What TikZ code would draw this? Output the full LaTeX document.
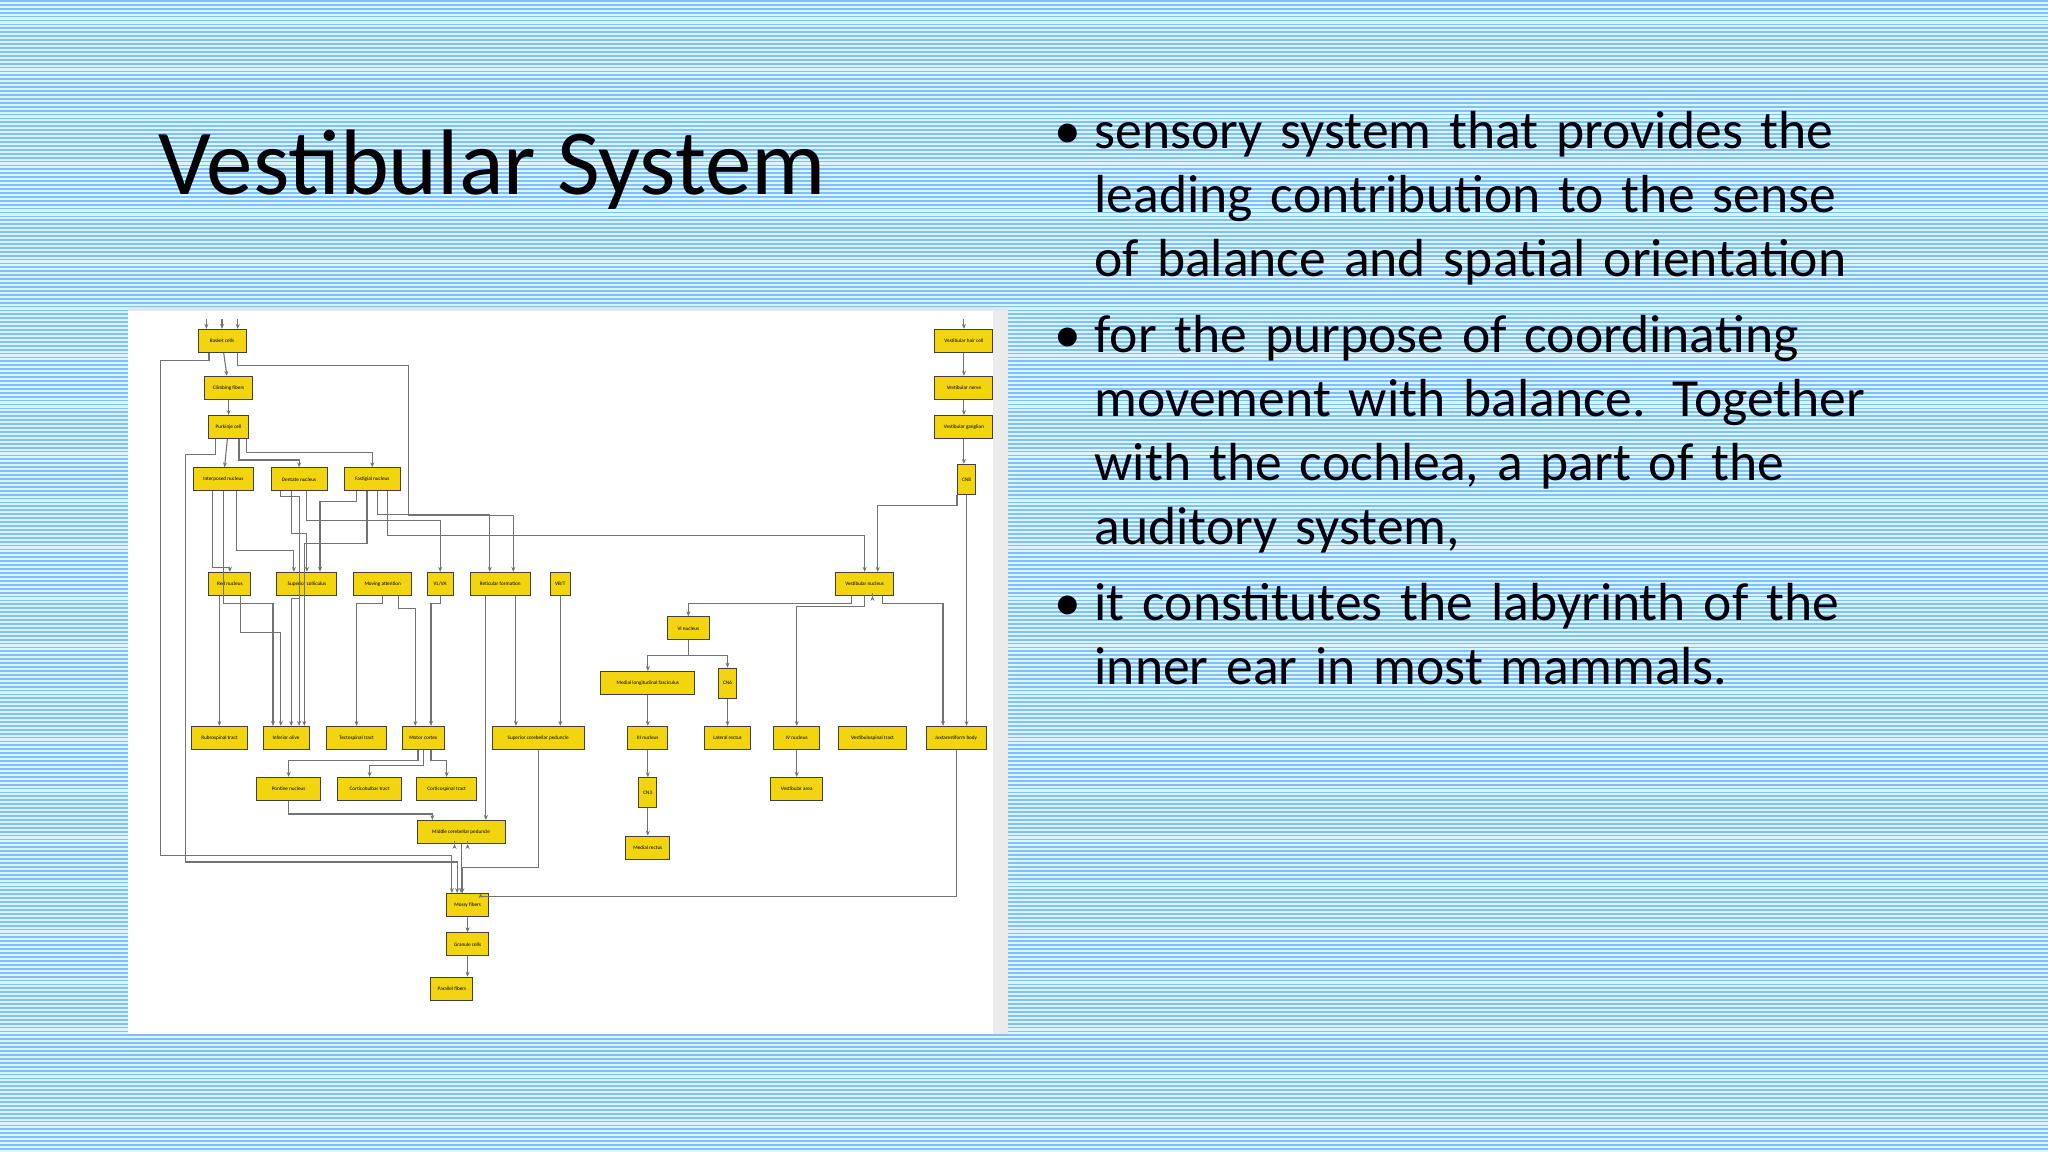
\documentclass[tikz,border=0pt]{standalone}
\usepackage{fontspec}
\setmainfont{Carlito}
\usetikzlibrary{arrows.meta,calc}
\begin{document}
\begin{tikzpicture}[x=0.653pt,y=-0.653pt,
  bx/.style={draw=black!75,fill=yellow!80!orange!95!black,line width=0.5pt,inner sep=0.5pt,minimum height=11.5pt,font=\fontsize{2.6}{3}\selectfont},
  cn/.style={bx,minimum height=15pt,minimum width=9pt},
  ed/.style={draw=black!55,line width=0.55pt,-{Stealth[length=2.5pt,width=2pt]}},
  ln/.style={draw=black!55,line width=0.55pt}]
\useasboundingbox (0,0) rectangle (1568,882);
\fill[blue!25!cyan!15!white] (0,0) rectangle (1568,882);
\foreach \i in {0,3,...,882} {\fill[blue!50!cyan!50!white] (0,\i) rectangle (1568,\i+1.4);}
% title and text
\node[anchor=west,font=\fontsize{46.5}{52}\selectfont] (title) at (116,130) {Vestibular System};
\node[anchor=north west,text width=720,align=left,font=\fontsize{26.8}{32}\selectfont] (txt) at (802,80) {%
\makebox[20pt][l]{•}sensory system that provides the\\\hspace*{20pt}leading contribution to the sense\\\hspace*{20pt}of balance and spatial orientation\\[6pt]
\makebox[20pt][l]{•}for the purpose of coordinating\\\hspace*{20pt}movement with balance. Together\\\hspace*{20pt}with the cochlea, a part of the\\\hspace*{20pt}auditory system,\\[6pt]
\makebox[20pt][l]{•}it constitutes the labyrinth of the\\\hspace*{20pt}inner ear in most mammals.};
% diagram panel
\fill[white] (98,235) rectangle (772,792);
\fill[black!8] (760,235) rectangle (772,792);
\fill[black!10] (98,235) rectangle (772,238);
% nodes
\node[bx,minimum width=24pt] (bask) at (170,261) {Basket cells};
\node[bx,minimum width=24pt] (climb) at (175,297) {Climbing fibers};
\node[bx,minimum width=20pt] (purk) at (175,327) {Purkinje cell};
\node[bx,minimum width=30pt] (interp) at (171,367) {Interposed nucleus};
\node[bx,minimum width=28pt] (dent) at (229,367) {Dentate nucleus};
\node[bx,minimum width=28pt] (fast) at (285,367) {Fastigial nucleus};
\node[bx,minimum width=21pt] (red) at (176,447) {Red nucleus};
\node[bx,minimum width=30pt] (supcol) at (235,447) {Superior colliculus};
\node[bx,minimum width=29pt] (mov) at (293,447) {Moving attention};
\node[bx,minimum width=13pt] (vlva) at (337,447) {VL/VA};
\node[bx,minimum width=30pt] (retic) at (383,447) {Reticular formation};
\node[bx,minimum width=10pt] (vbt) at (429,447) {VB/T};
\node[bx,minimum width=28pt] (rubro) at (168,565) {Rubrospinal tract};
\node[bx,minimum width=23pt] (infol) at (219,565) {Inferior olive};
\node[bx,minimum width=30pt] (tecto) at (273,565) {Tectospinal tract};
\node[bx,minimum width=21pt] (motor) at (324,565) {Motor cortex};
\node[bx,minimum width=46pt] (scp) at (412,565) {Superior cerebellar peduncle};
\node[bx,minimum width=32pt] (pont) at (221,604) {Pontine nucleus};
\node[bx,minimum width=32pt] (cbulb) at (283,604) {Corticobulbar tract};
\node[bx,minimum width=30pt] (cspin) at (342,604) {Corticospinal tract};
\node[bx,minimum width=44pt] (mcp) at (353,637) {Middle cerebellar peduncle};
\node[bx,minimum width=21pt] (mossy) at (358,693) {Mossy fibers};
\node[bx,minimum width=21pt] (gran) at (358,723) {Granule cells};
\node[bx,minimum width=21pt] (par) at (346,757) {Parallel fibers};
\node[bx,minimum width=29pt] (vhc) at (738,261) {Vestibular hair cell};
\node[bx,minimum width=29pt] (vnerve) at (738,297) {Vestibular nerve};
\node[bx,minimum width=29pt] (vgang) at (738,327) {Vestibular ganglion};
\node[cn] (cn8) at (740,367) {CN8};
\node[bx,minimum width=29pt] (vnuc) at (662,447) {Vestibular nucleus};
\node[bx,minimum width=21pt] (vi) at (527,481) {VI nucleus};
\node[bx,minimum width=47pt] (mlf) at (496,523) {Medial longitudinal fasciculus};
\node[cn] (cn6) at (557,523) {CN6};
\node[bx,minimum width=20pt] (iii) at (496,565) {III nucleus};
\node[bx,minimum width=23pt] (latr) at (557,565) {Lateral rectus};
\node[bx,minimum width=23pt] (iv) at (610,565) {IV nucleus};
\node[bx,minimum width=34pt] (vst) at (668,565) {Vestibulospinal tract};
\node[bx,minimum width=30pt] (juxta) at (732,565) {Juxtarestiform body};
\node[cn] (cn3) at (496,607) {CN3};
\node[bx,minimum width=26pt] (vesta) at (610,604) {Vestibular area};
\node[bx,minimum width=22pt] (medr) at (496,649) {Medial rectus};
% top inputs
\coordinate (t1) at (158,244); \coordinate (t2) at (170,244); \coordinate (t3) at (182,244);
\draw[ed] (t1) -- (t1|-bask.north);
\draw[ed] (t2) -- (bask.north);
\draw[ed] (t3) -- (t3|-bask.north);
\coordinate (t4) at (738,244);
\draw[ed] (t4) -- (vhc.north);
% cerebellar chain
\draw[ed] (bask) -- (climb);
\draw[ed] (climb) -- (purk);
\draw[ed] (purk) -- (interp);
\draw[ed] ($(purk.south)+(8,0)$) |- ++(0,16) -| (dent.north);
\draw[ed] ($(purk.south)+(14,0)$) |- ++(0,10) -| (fast.north);
\coordinate (l1) at (123,655); \coordinate (l2) at (142,660);
\draw[ln] ($(bask.south)+(-10,0)$) |- ++(0,6) -| (l1);
\draw[ed] (l1) -| ($(mossy.north)+(-12,0)$);
\draw[ln] ($(purk.south)+(-10,0)$) |- ++(0,12) -| (l2);
\draw[ed] (l2) -| ($(mossy.north)+(-8,0)$);
\coordinate (l3) at (313,395);
\draw[ln] ($(bask.south)+(12,0)$) |- (313,280) -- (l3);
\draw[ed] (l3) -| ($(retic.north)+(10,0)$);
\draw[ed] ($(interp.south)+(-8,0)$) |- ++(0,58) -| (red.north);
\draw[ed] (interp.south) |- ++(0,86) -| ($(infol.north)+(-10,0)$);
\draw[ed] ($(interp.south)+(10,0)$) |- ++(0,45) -| ($(supcol.north)+(-10,0)$);
\draw[ed] ($(dent.south)+(-6,0)$) |- ++(0,32) -| (supcol.north);
\draw[ed] ($(dent.south)+(6,0)$) |- ++(0,22) -| (vlva.north);
\draw[ed] ($(dent.south)+(-14,0)$) |- ++(0,4) -| ($(infol.north)+(10,0)$);
\draw[ed] ($(fast.south)+(-12,0)$) |- ++(0,8) -| ($(supcol.north)+(10,0)$);
\draw[ed] ($(fast.south)+(-4,0)$) |- ++(0,40) -| ($(infol.north)+(14,0)$);
\draw[ed] ($(fast.south)+(4,0)$) |- ++(0,18) -| ($(retic.north)+(-8,0)$);
\draw[ed] ($(fast.south)+(12,0)$) |- ++(0,34) -| (vnuc.north);
\draw[ed] (red.south-|rubro.north) -- (rubro.north);
\draw[ed] ($(red.south)+(8,0)$) |- ++(0,28) -| ($(infol.north)+(-4,0)$);
\draw[ed] (mov.south) |- ++(0,6) -| (tecto.north);
\draw[ed] ($(supcol.south)+(-6,0)$) |- ++(0,2) -| ($(infol.north)+(4,0)$);
\draw[ed] ($(mov.south)+(12,0)$) |- ++(0,10) -| ($(motor.north)+(-6,0)$);
\draw[ed] (vlva.south) |- ++(0,6) -| ($(motor.north)+(6,0)$);
\draw[ed] ($(retic.south)+(12,0)$) -- ($(scp.north)+(-17,0)$);
\draw[ed] (vbt.south) -- (vbt|-scp.north);
\draw[ed] ($(retic.south)+(-11,0)$) -- ($(mcp.north)+(19,0)$);
\draw[ed] ($(motor.south)+(-4,0)$) |- ++(0,8) -| (pont.north);
\draw[ed] (motor.south) |- ++(0,12) -| (cbulb.north);
\draw[ed] ($(motor.south)+(6,0)$) |- ++(0,8) -| (cspin.north);
\draw[ed] (pont.south) |- ++(0,10) -| ($(mcp.north)+(-22,0)$);
\draw[ed] (scp.south) |- ++(0,90) -| ($(mossy.north)+(-4,0)$);
\draw[ed] ($(mcp.south)+(-5,0)$) -- ($(mcp.south)+(-5,0)$|-mossy.north);
\draw[ed] (mcp.south) -- (mcp.south|-mossy.north);
\draw[ed] ($(mcp.south)+(5,0)$) -- ($(mcp.south)+(5,0)$|-mossy.north);
\draw[ed] (mossy) -- (gran);
\draw[ed] (gran.south) -- (par.north-|gran.south);
\draw[ed] (juxta.south) |- ++(0,112) -| ($(mossy.north)+(10,0)$);
% vestibular chain
\draw[ed] (vhc) -- (vnerve);
\draw[ed] (vnerve) -- (vgang);
\draw[ed] (vgang.south) -- (vgang.south|-cn8.north);
\draw[ed] (cn8.south west) |- ++(-20,8) -| ($(vnuc.north)+(10,0)$);
\draw[ed] (cn8.south) -- (cn8.south|-juxta.north);
\draw[ed] ($(vnuc.south)+(-10,0)$) |- ++(0,6) -| (vi.north);
\draw[ed] (vnuc.south) |- ++(0,8) -| (iv.north);
\draw[ed] ($(vnuc.south)+(6,0)$) -- ($(vnuc.south)+(6,0)$|-vst.north);
\draw[ed] ($(vnuc.south)+(14,0)$) |- ++(0,6) -| ($(juxta.north)+(-10,0)$);
\draw[ed] (vi.south) |- ++(0,12) -| (mlf.north);
\draw[ed] (vi.south) |- ++(0,12) -| (cn6.north);
\draw[ed] (mlf) -- (iii);
\draw[ed] (cn6) -- (latr);
\draw[ed] (iii) -- (cn3);
\draw[ed] (cn3) -- (medr);
\draw[ed] (iv) -- (vesta);
\end{tikzpicture}
\end{document}
